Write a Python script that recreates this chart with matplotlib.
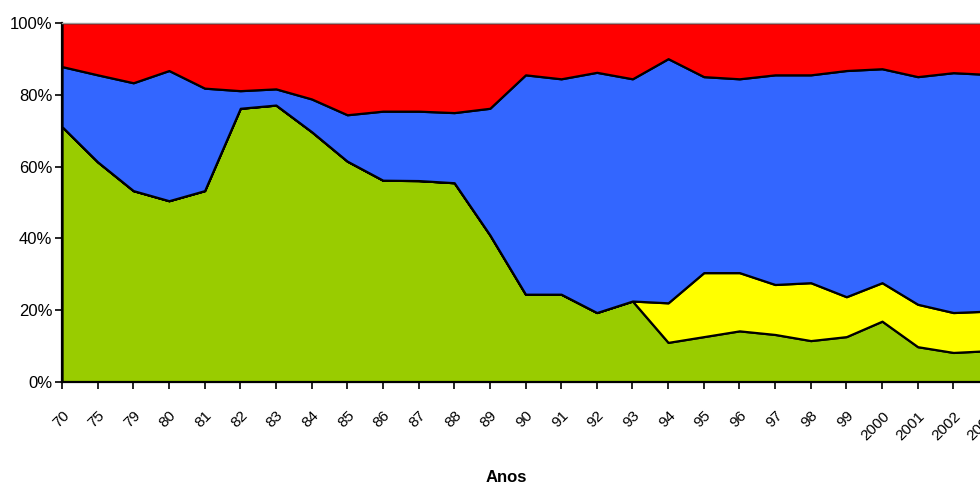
import matplotlib
matplotlib.use('Agg')
import matplotlib.pyplot as plt
import matplotlib.transforms as mtransforms
import numpy as np

plt.rcParams['font.family'] = ['Liberation Sans Narrow', 'Liberation Sans', 'DejaVu Sans']

anos = ['70', '75', '79', '80', '81', '82', '83', '84', '85', '86', '87', '88', '89',
        '90', '91', '92', '93', '94', '95', '96', '97', '98', '99', '2000', '2001', '2002', '2003']

verde = [71.1, 61.3, 53.3, 50.5, 53.3, 76.2, 77.1, 69.7, 61.5, 56.2, 56.1, 55.5, 41.0,
         24.5, 24.5, 19.4, 22.6, 11.1, 12.7, 14.3, 13.3, 11.6, 12.7, 17.0, 9.9, 8.3, 8.8]
amarelo = [0, 0, 0, 0, 0, 0, 0, 0, 0, 0, 0, 0, 0,
           0, 0, 0, 0, 11.0, 17.8, 16.2, 13.9, 16.1, 11.1, 10.7, 11.8, 11.1, 11.0]
azul = [16.7, 24.2, 30.0, 36.2, 28.5, 4.9, 4.5, 9.1, 12.9, 19.2, 19.3, 19.5, 35.2,
        61.0, 59.9, 66.8, 61.8, 67.9, 54.5, 53.9, 58.3, 57.8, 62.9, 59.5, 63.3, 66.7, 65.8]
vermelho = [12.2, 14.5, 16.7, 13.3, 18.2, 18.9, 18.4, 21.2, 25.6, 24.6, 24.6, 25.0, 23.8,
            14.5, 15.6, 13.8, 15.6, 10.0, 15.0, 15.6, 14.5, 14.5, 13.3, 12.8, 15.0, 13.9, 14.4]

cores = ['#99CC00', '#FFFF00', '#3366FF', '#FF0000']

dados = np.array([verde, amarelo, azul, vermelho], dtype=float)
dados = dados / dados.sum(axis=0) * 100
x = np.arange(len(anos))

fig = plt.figure(figsize=(9.8, 4.87), dpi=100)
ax = fig.add_axes([62 / 980, (487 - 382.3) / 487, 927 / 980, 359.6 / 487])

ax.stackplot(x, dados, colors=cores, edgecolor='black', linewidth=1.6)

ax.set_xlim(0, len(anos) - 1)
ax.set_ylim(0, 100)
ax.set_yticks([0, 20, 40, 60, 80, 100])
ax.set_yticklabels(['0%', '20%', '40%', '60%', '80%', '100%'], fontsize=12)
ax.set_xticks(x)
ax.set_xticklabels(anos, fontsize=11, rotation=45, ha='right', rotation_mode='anchor')
offset = mtransforms.ScaledTranslation(-2 / 100, 0, fig.dpi_scale_trans)
for lbl in ax.get_xticklabels():
    lbl.set_transform(lbl.get_transform() + offset)

ax.tick_params(axis='both', direction='out', length=5, width=1.2, color='black')
ax.tick_params(axis='x', pad=14)
ax.tick_params(axis='y', pad=2)
for s in ['left', 'bottom']:
    ax.spines[s].set_linewidth(1.6)
    ax.spines[s].set_color('black')
ax.spines['top'].set_color('#999999')
ax.spines['top'].set_linewidth(1.0)
ax.spines['right'].set_visible(False)

fig.text(506 / 980, 1 - 478 / 487, 'Anos', ha='center', va='center', fontsize=12, fontweight='bold')

fig.savefig('out.png', dpi=100)
